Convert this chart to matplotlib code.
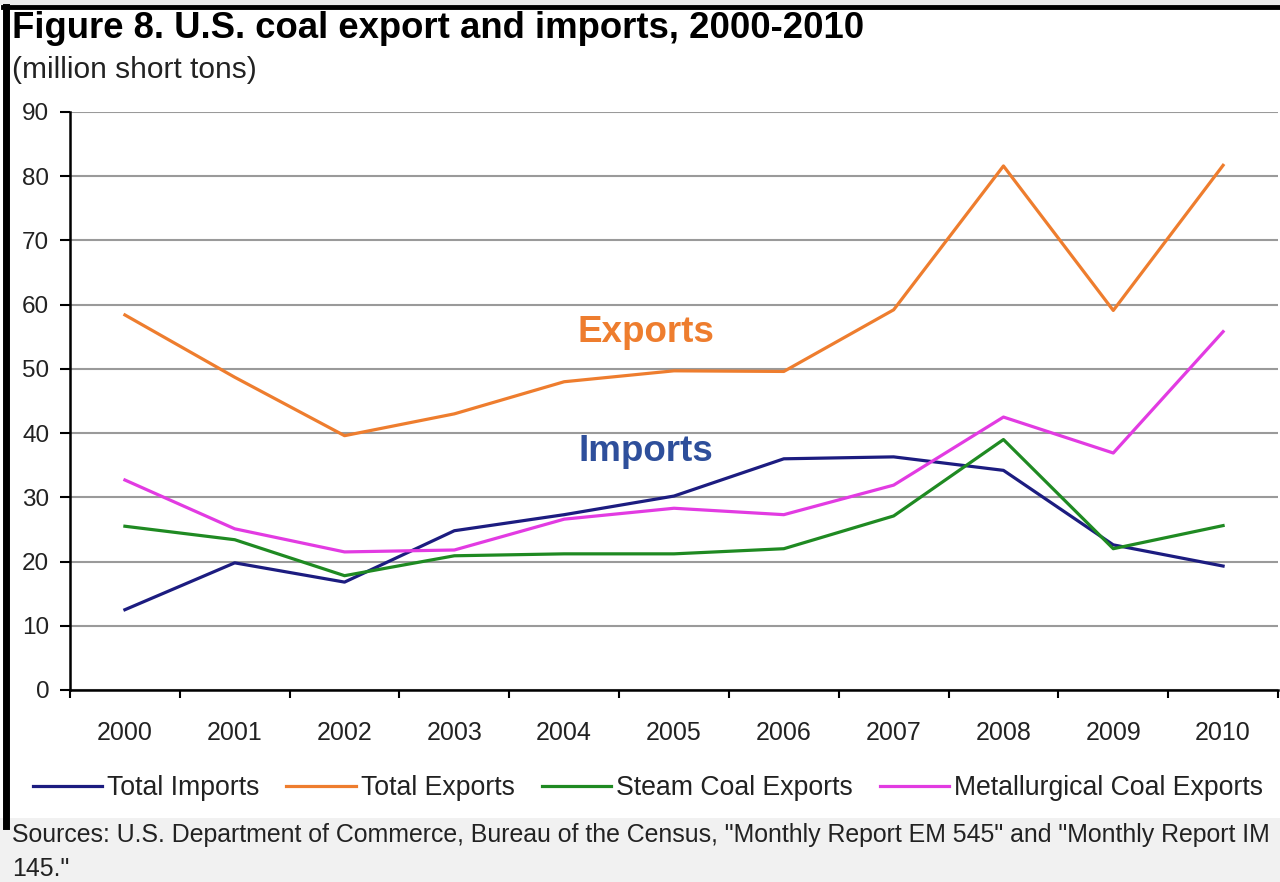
import matplotlib.pyplot as plt
from matplotlib.lines import Line2D
from matplotlib.patches import Rectangle

plt.rcParams['font.family'] = ['Liberation Sans', 'DejaVu Sans']

years = ['2000', '2001', '2002', '2003', '2004', '2005',
         '2006', '2007', '2008', '2009', '2010']
total_imports = [12.5, 19.8, 16.8, 24.8, 27.3, 30.2, 36.0, 36.3, 34.2, 22.6, 19.3]
total_exports = [58.4, 48.7, 39.6, 43.0, 48.0, 49.7, 49.6, 59.2, 81.6, 59.1, 81.7]
steam_exports = [25.5, 23.4, 17.8, 20.9, 21.2, 21.2, 22.0, 27.1, 39.0, 22.0, 25.6]
met_exports = [32.7, 25.1, 21.5, 21.8, 26.6, 28.3, 27.3, 31.9, 42.5, 36.9, 55.8]

series = [
    ('Total Imports', total_imports, '#1c1c80'),
    ('Total Exports', total_exports, '#ee7d2e'),
    ('Steam Coal Exports', steam_exports, '#1f8a22'),
    ('Metallurgical Coal Exports', met_exports, '#e23be2'),
]

W, H = 1280, 882
fig = plt.figure(figsize=(W / 100, H / 100), dpi=100)
fig.patch.set_facecolor('white')

# grey strip at the top and behind the source note
fig.add_artist(Rectangle((0, 1 - 5 / H), 1, 5 / H, transform=fig.transFigure,
                         facecolor='#ebebeb', edgecolor='none', zorder=0))
fig.add_artist(Rectangle((0, 0), 1, 1 - 818 / H, transform=fig.transFigure,
                         facecolor='#f1f1f1', edgecolor='none', zorder=0))
# black frame on the left and top
fig.add_artist(Line2D([5.5 / W, 5.5 / W], [1 - 826 / H, 1 - 7 / H],
                      transform=fig.transFigure, color='black', lw=5))
fig.add_artist(Line2D([3 / W, 1], [1 - 7 / H, 1 - 7 / H],
                      transform=fig.transFigure, color='black', lw=3.5))

ax = fig.add_axes([70 / W, 1 - 690 / H, 1208 / W, 578 / H])
x = list(range(len(years)))
for name, vals, col in series:
    ax.plot(x, vals, color=col, lw=2.3, label=name, zorder=3)

ax.set_xlim(-0.5, len(years) - 0.5)
ax.set_ylim(0, 90)
ax.set_yticks(range(0, 91, 10))
ax.set_xticks(x)
ax.set_xticklabels(years)
ax.set_xticks([i - 0.5 for i in range(len(years) + 1)], minor=True)
ax.tick_params(axis='x', which='major', length=0, pad=22, labelsize=18,
               labelcolor='#222222')
ax.tick_params(axis='x', which='minor', length=6, width=1.5, direction='out')
ax.tick_params(axis='y', length=7, width=1.5, direction='out', pad=8,
               labelsize=17.5, labelcolor='#222222')
ax.grid(axis='y', color='#9a9a9a', lw=1.5, zorder=1)
for s in ['top', 'right']:
    ax.spines[s].set_visible(False)
for s in ['left', 'bottom']:
    ax.spines[s].set_linewidth(1.8)
    ax.spines[s].set_zorder(4)

ax.text(4.74, 55.7, 'Exports', color='#ee7d2e', fontsize=26.5, fontweight='bold',
        ha='center', va='center')
ax.text(4.74, 37.2, 'Imports', color='#2e4f9b', fontsize=26.5, fontweight='bold',
        ha='center', va='center')

fig.text(12 / W, 1 - 28 / H, 'Figure 8. U.S. coal export and imports, 2000-2010',
         fontsize=26.3, fontweight='bold', ha='left', va='center')
fig.text(12 / W, 1 - 70 / H, '(million short tons)', fontsize=21.5,
         ha='left', va='center', color='#222222')

fig.legend(loc='center', bbox_to_anchor=(648 / W, 1 - 788 / H), ncol=4,
           frameon=False, fontsize=19.2, handlelength=2.6, handletextpad=0.2,
           columnspacing=1.0, labelcolor='#222222')

fig.text(12 / W, 1 - 835 / H,
         'Sources: U.S. Department of Commerce, Bureau of the Census, '
         '"Monthly Report EM 545" and "Monthly Report IM',
         fontsize=17.9, ha='left', va='center', color='#222222')
fig.text(12 / W, 1 - 869 / H, '145."',
         fontsize=17.9, ha='left', va='center', color='#222222')

fig.savefig('out.png', dpi=100)
